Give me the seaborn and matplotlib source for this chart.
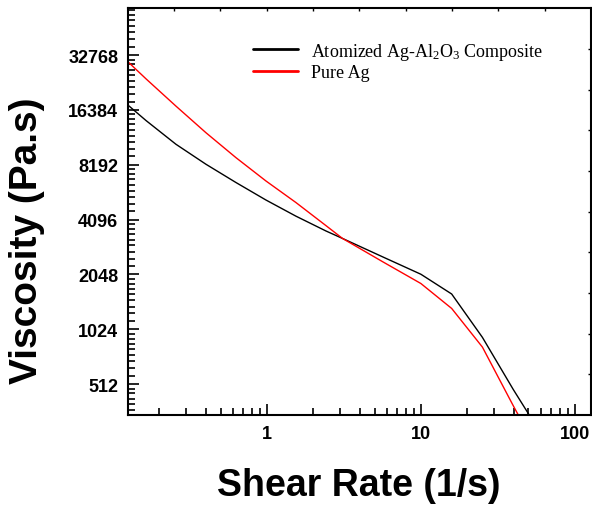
import matplotlib
matplotlib.use("Agg")
import matplotlib.pyplot as plt
import matplotlib.ticker as mticker
import seaborn as sns
import pandas as pd
import numpy as np

# shear rate (1/s) and viscosity (Pa.s)
shear_rate = [0.12, 0.164, 0.2565, 0.4017, 0.629, 0.985, 1.543, 2.416, 3.1,
              5.69, 10.0, 15.85, 25.1, 39.8, 63.1]
composite = [17960, 14330, 10620, 8250, 6550, 5250, 4280, 3550, 3228,
             2551, 2054, 1600, 925, 479, 257]
pure_ag = [31150, 24270, 17200, 12290, 8970, 6680, 5085, 3800, 3228,
           2397, 1827, 1333, 818, 390, 191]

series_names = ["Atomized Ag-Al$_2$O$_3$ Composite", "Pure Ag"]
series_colors = ["black", "red"]
y_ticks = [512, 1024, 2048, 4096, 8192, 16384, 32768]
x_ticks = [1, 10, 100]

df = pd.concat([
    pd.DataFrame({"rate": shear_rate, "visc": composite, "sample": series_names[0]}),
    pd.DataFrame({"rate": shear_rate, "visc": pure_ag, "sample": series_names[1]}),
])

sns.set_style("ticks")
plt.rcParams["font.family"] = ["Liberation Sans", "DejaVu Sans"]
plt.rcParams["mathtext.fontset"] = "custom"
plt.rcParams["mathtext.rm"] = "Liberation Serif"
plt.rcParams["mathtext.default"] = "regular"
for key in ["text.color", "axes.labelcolor", "xtick.color", "ytick.color", "axes.edgecolor"]:
    plt.rcParams[key] = "black"

fig = plt.figure(figsize=(5.92, 5.10), dpi=100)
ax = fig.add_axes([0.216, 0.184, 0.782, 0.798])

sns.lineplot(data=df, x="rate", y="visc", hue="sample", palette=series_colors,
             linewidth=1.0, ax=ax, sort=False)

ax.set_xscale("log")
ax.set_yscale("log", base=2)
ax.set_xlim(0.125, 127)
ax.set_ylim(346, 59300)

ax.xaxis.set_major_locator(mticker.FixedLocator(x_ticks))
ax.xaxis.set_major_formatter(mticker.FixedFormatter([str(t) for t in x_ticks]))
ax.xaxis.set_minor_locator(mticker.LogLocator(base=10, subs=np.arange(2, 10)))
ax.xaxis.set_minor_formatter(mticker.NullFormatter())

ax.yaxis.set_major_locator(mticker.FixedLocator(y_ticks))
ax.yaxis.set_major_formatter(mticker.FixedFormatter([str(t) for t in y_ticks]))
ax.yaxis.set_minor_locator(mticker.LogLocator(base=2, subs=1 + np.arange(1, 9) / 9))
ax.yaxis.set_minor_formatter(mticker.NullFormatter())

ax.tick_params(which="both", direction="in", width=1.2, top=False, right=False)
ax.tick_params(which="major", length=8, labelsize=13, pad=7)
ax.tick_params(which="minor", length=5)
for lab in ax.get_xticklabels() + ax.get_yticklabels():
    lab.set_fontweight("bold")
for sp in ax.spines.values():
    sp.set_linewidth(1.5)
    sp.set_visible(True)

# small evenly spaced ticks on the top and right edges
ov = ax.inset_axes([0, 0, 1, 1])
ov.patch.set_visible(False)
for sp in ov.spines.values():
    sp.set_visible(False)
ov.set_xlim(0, 1)
ov.set_ylim(0, 1)
ov.set_xticks(np.arange(0.1, 1.0, 0.1))
ov.set_yticks(np.arange(0.1, 1.0, 0.1))
ov.tick_params(direction="in", length=2.5, width=1.0, bottom=False, left=False,
               top=True, right=True, labelbottom=False, labelleft=False)

ax.set_xlabel("Shear Rate (1/s)", fontsize=27, fontweight="bold")
ax.set_ylabel("Viscosity (Pa.s)", fontsize=28, fontweight="bold")
ax.xaxis.set_label_coords(0.498, -0.128)
ax.yaxis.set_label_coords(-0.179, 0.432)

handles, labels = ax.get_legend_handles_labels()
ax.legend(handles, labels, loc="upper left", bbox_to_anchor=(0.27, 0.92),
          frameon=False, borderpad=0, borderaxespad=0, handlelength=2.5,
          handletextpad=0.7, labelspacing=0.15,
          prop={"family": "Liberation Serif", "size": 13})
for line in ax.get_legend().get_lines():
    line.set_linewidth(2.0)

fig.savefig("out.png", dpi=100)
